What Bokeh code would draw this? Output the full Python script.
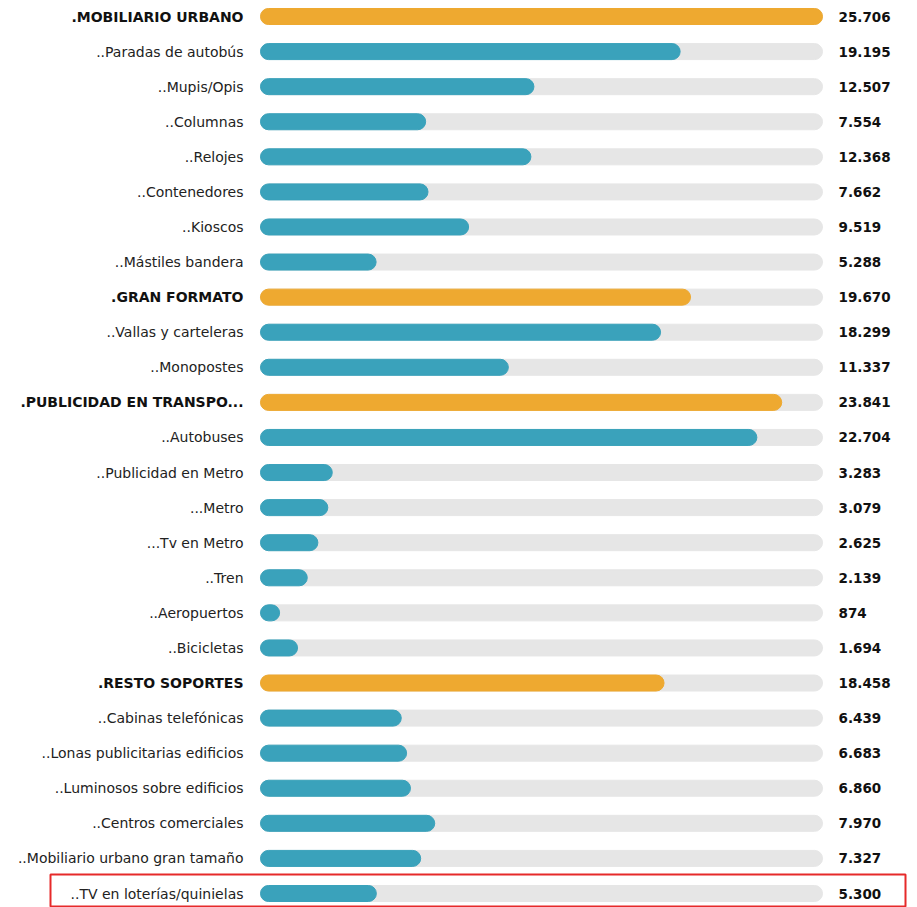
from bokeh.plotting import figure
from bokeh.models import Range1d, ColumnDataSource
from bokeh.embed import file_html
from bokeh.resources import INLINE
from bokeh.core.properties import value

labels = [".MOBILIARIO URBANO", "..Paradas de autobús", "..Mupis/Opis", "..Columnas",
          "..Relojes", "..Contenedores", "..Kioscos", "..Mástiles bandera",
          ".GRAN FORMATO", "..Vallas y carteleras", "..Monopostes",
          ".PUBLICIDAD EN TRANSPO...", "..Autobuses", "..Publicidad en Metro",
          "...Metro", "...Tv en Metro", "..Tren", "..Aeropuertos", "..Bicicletas",
          ".RESTO SOPORTES", "..Cabinas telefónicas", "..Lonas publicitarias edificios",
          "..Luminosos sobre edificios", "..Centros comerciales",
          "..Mobiliario urbano gran tamaño", "..TV en loterías/quinielas"]
values = [25706, 19195, 12507, 7554, 12368, 7662, 9519, 5288,
          19670, 18299, 11337,
          23841, 22704, 3283, 3079, 2625, 2139, 874, 1694,
          18458, 6439, 6683, 6860, 7970, 7327, 5300]
is_header = [l.startswith(".") and not l.startswith("..") for l in labels]

ORANGE = "#eea930"
TEAL = "#3aa2bb"
TRACK = "#e6e6e6"

W, H = 917, 907
bar0_px = 260.0
bar_px_len = 562.0
vmax = max(values)
ppu = bar_px_len / vmax
row0_px = 16.0
row_step = 35.08

x_start = -bar0_px / ppu
x_end = (W - bar0_px) / ppu
y_top = -row0_px / row_step
y_bot = (H - row0_px) / row_step

p = figure(width=W, height=H, output_backend="svg", toolbar_location=None,
           x_range=Range1d(x_start, x_end), y_range=Range1d(y_bot, y_top),
           min_border=0, outline_line_color=None, background_fill_color="white",
           border_fill_color="white")
p.axis.visible = False
p.grid.visible = False

n = len(labels)
ys = list(range(n))
fmt = [f"{v:,}".replace(",", ".") for v in values]
colors = [ORANGE if h else TEAL for h in is_header]

src = ColumnDataSource(dict(y=ys, v=values, vmax=[vmax] * n, lab=labels, fmt=fmt,
                            color=colors))
bh = 16.0 / row_step

p.hbar(y="y", left=0, right="vmax", height=bh, color=TRACK, border_radius=8, source=src)
p.hbar(y="y", left=0, right="v", height=bh, color="color", border_radius=8, source=src)

lab_x = -17.0 / ppu
val_x = vmax + 16.0 / ppu

hdr = ColumnDataSource(dict(y=[y for y, h in zip(ys, is_header) if h],
                            lab=[l for l, h in zip(labels, is_header) if h]))
sub = ColumnDataSource(dict(y=[y for y, h in zip(ys, is_header) if not h],
                            lab=[l for l, h in zip(labels, is_header) if not h]))

p.text(x=lab_x, y="y", text="lab", source=sub, text_align="right", text_baseline="middle",
       text_font=value("DejaVu Sans"), text_font_size="14px", text_color="#222222")
p.text(x=lab_x, y="y", text="lab", source=hdr, text_align="right", text_baseline="middle",
       text_font=value("DejaVu Sans"), text_font_size="14px", text_font_style="bold",
       text_color="#111111")
p.text(x=val_x, y="y", text="fmt", source=src, text_align="left", text_baseline="middle",
       text_font=value("DejaVu Sans"), text_font_size="13.5px", text_font_style="bold",
       text_color="#111111")

# red highlight box around the last row
last = n - 1
p.quad(left=-210.0 / ppu, right=(905 - bar0_px) / ppu,
       top=last - 19.0 / row_step, bottom=last + 13.0 / row_step,
       fill_color=None, line_color="#e62a2a", line_width=2)

open("out.html", "w").write(file_html(p, INLINE))
